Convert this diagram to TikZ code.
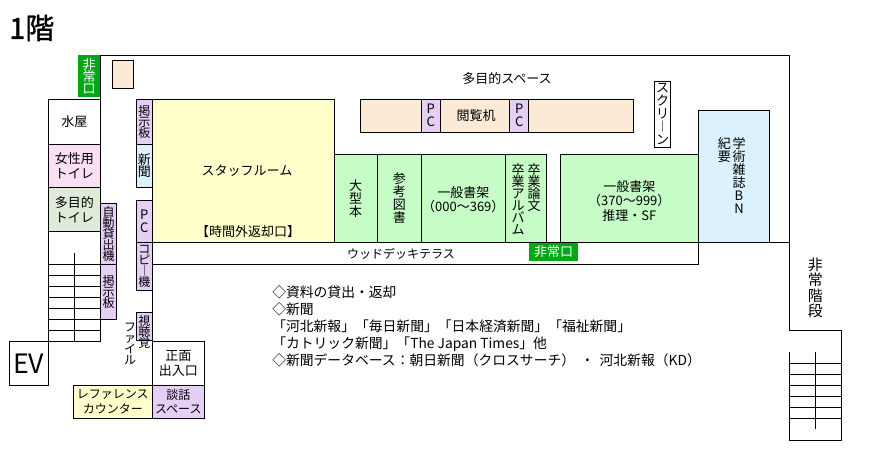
\documentclass[tikz,border=0pt]{standalone}
\usepackage{fontspec}
\setmainfont{Noto Sans CJK JP}
\newfontfamily\titlefont[FakeBold=1.2]{Noto Sans CJK JP}
\lineskiplimit=-20pt
\definecolor{peach}{HTML}{FCE9D6}
\definecolor{lilac}{HTML}{E6CFF5}
\definecolor{skyblue}{HTML}{DBF1FD}
\definecolor{pinkroom}{HTML}{FBDFF3}
\definecolor{sage}{HTML}{DFEBD8}
\definecolor{cream}{HTML}{FFFFCC}
\definecolor{shelf}{HTML}{C6FCC6}
\definecolor{exitgreen}{HTML}{00A814}
\tikzset{
  x=.75pt,y=-.75pt,
  wall/.style={line width=.75pt,black},
  room/.style 2 args={draw=black,line width=.75pt,rectangle,inner sep=0pt,outer sep=0pt,align=center,
    anchor=north west,minimum width=#1*.75pt,minimum height=#2*.75pt,
    font=\fontsize{9.75}{11}\selectfont},
  word/.style={inner sep=0pt,align=center,font=\fontsize{9.75}{11}\selectfont},
  small/.style={font=\fontsize{9}{11}\selectfont},
  vert/.style={align=center,font=\fontsize{9.75}{9.75}\selectfont},
  vtight/.style={align=center,font=\fontsize{9.75}{9}\selectfont},
  vnarrow/.style={align=center,font=\fontsize{9}{8.25}\selectfont},
  exitbox/.style 2 args={fill=exitgreen,inner sep=0pt,outer sep=0pt,rectangle,align=center,text=white,
    anchor=north west,minimum width=#1*.75pt,minimum height=#2*.75pt,
    font=\fontsize{9.75}{9}\selectfont},
}
\begin{document}
\begin{tikzpicture}
  \useasboundingbox (0,0) rectangle (870,460);

  \node[anchor=west,inner sep=0pt,font=\fontsize{21.75}{24}\titlefont] (title) at (9,28) {1階};

  % walls
  \draw[wall] (100.3,55.3) -- (789.3,55.3) -- (789.3,330.3) -- (841.7,330.3) -- (841.7,440.3) -- (789.3,440.3) -- (789.3,352.3);
  \draw[wall] (100.3,55.3) -- (100.3,341.7) -- (48.5,341.7) -- (48.5,99.3) -- (100.3,99.3);
  \draw[wall] (152.3,99.3) -- (152.3,341.7);
  \draw[wall] (698.3,242.3) -- (789.3,242.3);

  % stairs
  \foreach \y in {264.3,275.3,286.3,297.3,308.3,319.3,330.3}
    \draw[wall] (48.5,\y) -- (100.3,\y);
  \draw[wall] (74.5,253.3) -- (74.5,341.7);
  \foreach \y in {363.3,374.3,385.3,396.3,407.3,418.3}
    \draw[wall] (789.3,\y) -- (841.7,\y);
  \draw[wall] (815.3,352.3) -- (815.3,429.3);

  % left side
  \node[exitbox={22}{42}] (exitA) at (78,55) {非\\常\\口};
  \node[room={21}{28},fill=peach] (shelfA) at (112.3,60.3) {};
  \node[room={51.8}{44.7}] (water) at (48.5,99.3) {水屋};
  \node[room={51.8}{43.5},fill=pinkroom] (toiletF) at (48.5,144) {女性用\\トイレ};
  \node[room={51.8}{43.8},fill=sage] (toiletM) at (48.5,187.5) {多目的\\トイレ};
  \node[room={16.4}{61},fill=lilac,vnarrow] (lending) at (100.3,203.3) {自\\動\\貸\\出\\機};
  \node[room={16.4}{55},fill=lilac,vnarrow] (boardA) at (100.3,264.3) {掲\\示\\板};
  \node[room={16}{44.7},fill=lilac,vnarrow] (boardB) at (136.3,99.3) {掲\\示\\板};
  \node[room={16}{43.5},fill=skyblue,vtight] (paper) at (136.3,144) {新\\聞};
  \node[room={16}{42},fill=lilac,vert] (pcA) at (136.3,200.3) {P\\C};
  \node[room={16}{48},fill=lilac,vnarrow] (copy) at (136.3,242.3) {コ\\ピ\\︱\\機};
  \node[room={16}{28.4},fill=lilac] (avbox) at (136.3,312.3) {};
  \node[word,vnarrow] (avtext) at (144.3,331.5) {視\\聴\\覚};
  \node[word,vnarrow] (filetext) at (130,343.5) {フ\\ァ\\イ\\ル};

  % bottom left
  \node[room={39}{43.3},font=\fontsize{20}{20}\selectfont] (ev) at (9.3,341.7) {EV};
  \node[room={79}{33.3},fill=cream,small] (counter) at (73.3,385) {レファレンス\\カウンター};
  \node[room={52}{43.3}] (entrance) at (152.3,341.7) {正面\\出入口};
  \node[room={52}{33.3},fill=lilac,small] (talk) at (152.3,385) {談話\\スペース};

  % middle
  \node[room={181.7}{143},fill=cream] (staff) at (152.3,99.3) {};
  \node[word] (stafftext) at (247,171) {スタッフルーム};
  \node[word] (staffdoor) at (248,232) {【時間外返却口】};
  \node[word] (space) at (507,79) {多目的スペース};
  \node[room={273}{33},fill=peach] (desk) at (360.3,99.3) {};
  \node[room={19}{33},fill=lilac,vert] (pcB) at (421.3,99.3) {P\\C};
  \node[room={19}{33},fill=lilac,vert] (pcC) at (509.7,99.3) {P\\C};
  \node[word] (desktext) at (476,116) {閲覧机};
  \node[room={16.4}{66},vert] (screen) at (654.3,81.3) {ス\\ク\\リ\\︱\\ン};

  % shelves
  \node[room={43.3}{88},fill=shelf,vert] (large) at (334,154.3) {大\\型\\本};
  \node[room={44}{88},fill=shelf,vert] (reference) at (377.3,154.3) {参\\考\\図\\書};
  \node[room={84}{88},fill=shelf] (generalA) at (421.3,154.3) {};
  \node[word] (generalAtext) at (463.3,199.5) {一般書架\\（000～369）};
  \node[room={41.4}{88},fill=shelf] (thesis) at (505.3,154.3) {};
  \node[word,vtight,anchor=north] (album) at (518,163) {卒\\業\\ア\\ル\\バ\\ム};
  \node[word,vtight,anchor=north] (theses) at (534,163) {卒\\業\\論\\文};
  \node[room={138}{88},fill=shelf] (generalB) at (560.3,154.3) {};
  \node[word] (generalBtext) at (629.3,201) {一般書架\\（370～999）\\推理・SF};
  \node[room={71}{132},fill=skyblue] (journal) at (698.3,110.3) {};
  \node[word,vert,anchor=north] (journaltext) at (739,137) {学\\術\\雑\\誌\\B\\N};
  \node[word,vert,anchor=north] (bulletin) at (724.3,137) {紀\\要};

  % deck
  \node[room={546}{22}] (deck) at (152.3,242.3) {};
  \node[word,small] (decktext) at (401,253.5) {ウッドデッキテラス};
  \node[exitbox={49.3}{18},font=\fontsize{9.75}{11}\selectfont] (exitB) at (529,243) {非常口};

  \node[word,font=\fontsize{11.25}{11.6}\selectfont] (stairtext) at (815.3,288) {非\\常\\階\\段};

  \node[anchor=north west,inner sep=0pt,align=left,font=\fontsize{10.35}{12.75}\selectfont] (info) at (272,285.5) {◇資料の貸出・返却\\
    ◇新聞\\
    「河北新報」「毎日新聞」「日本経済新聞」「福祉新聞」\\
    「カトリック新聞」「The Japan Times」他\\
    ◇新聞データベース：朝日新聞（クロスサーチ）\hspace{4pt}・\hspace{4pt}河北新報（KD）};
\end{tikzpicture}
\end{document}
